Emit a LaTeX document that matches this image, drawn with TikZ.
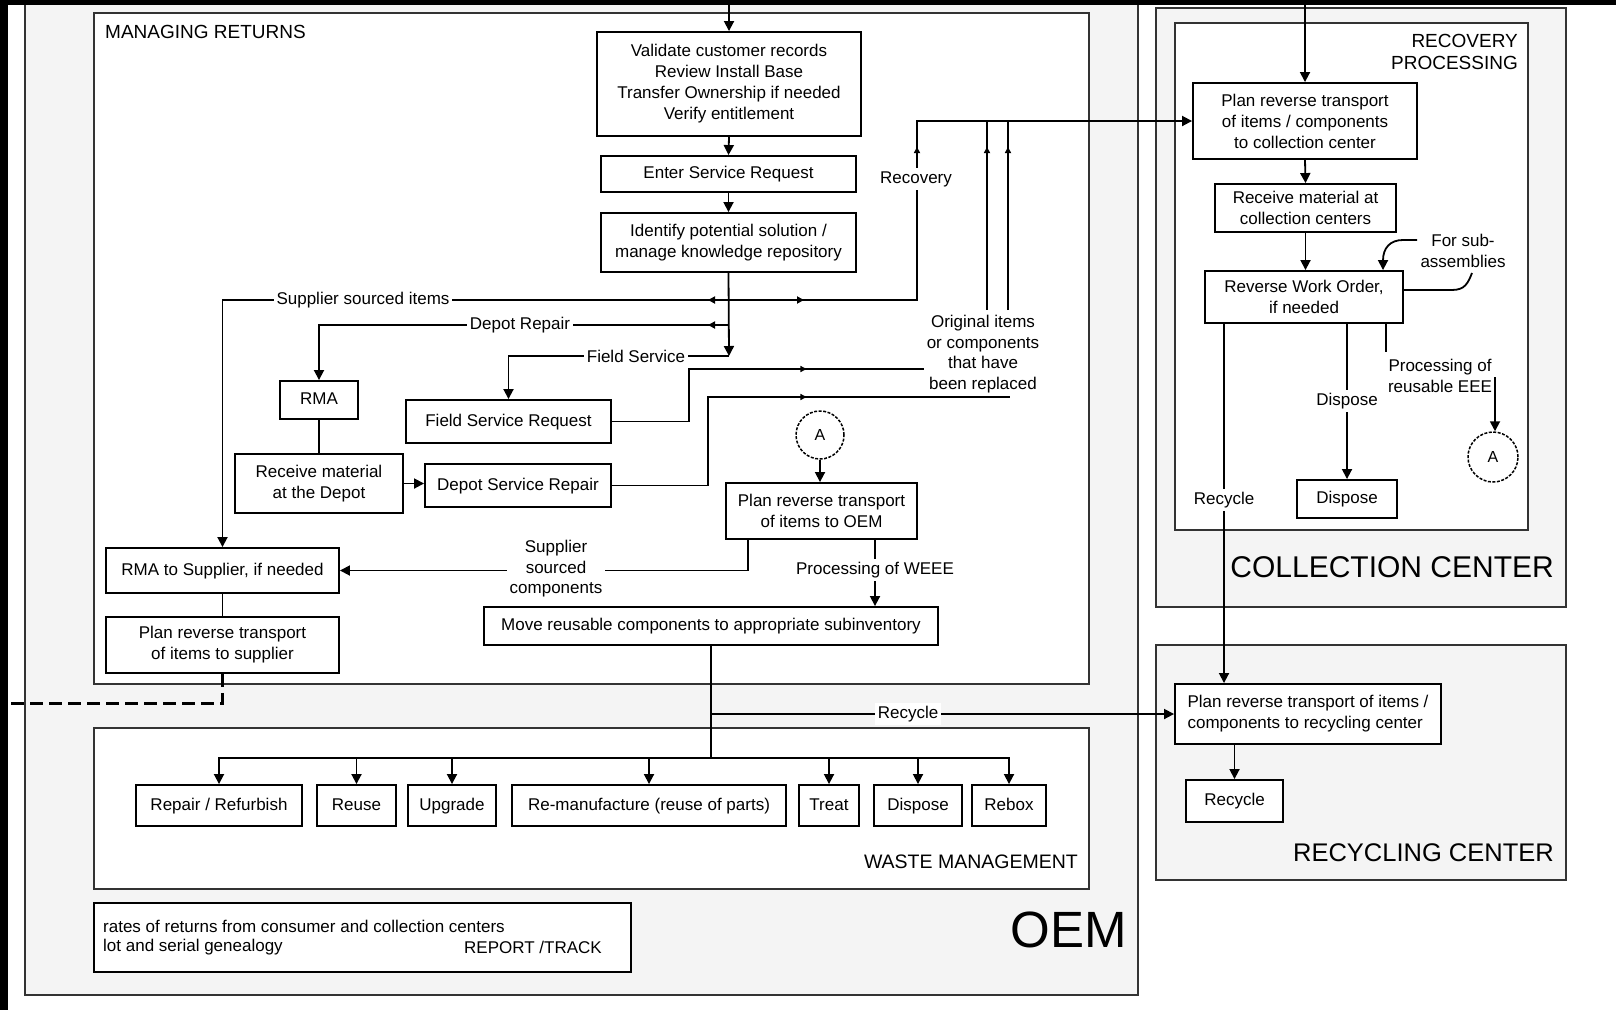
\documentclass[tikz,border=0pt]{standalone}
\usepackage{fontspec}
\setmainfont{Liberation Sans}
\usetikzlibrary{arrows.meta,calc,decorations.markings}
\definecolor{bgg}{HTML}{F4F4F4}
\definecolor{grpl}{HTML}{333333}
\tikzset{
  box/.style={draw=black, line width=1.9pt, fill=white, inner sep=0pt, align=center, font=\fontsize{17}{21}\selectfont},
  oneline/.style={text height=12.5pt, text depth=3.5pt},
  grp/.style={draw=grpl, line width=2pt},
  conn/.style={line width=1.8pt, draw=black},
  arr/.style={conn, -{Triangle[length=10pt,width=10pt]}},
  lbl/.style={fill=white, inner sep=3pt, font=\fontsize{17}{20.5}\selectfont, align=center},
  txt/.style={inner sep=0pt, font=\fontsize{17}{20.5}\selectfont, align=center},
  midarr/.style={postaction={decorate}, decoration={markings, mark=at position #1 with {\arrow{Triangle[length=7pt,width=7pt]}}}},
  smallarr/.style={postaction={decorate}, decoration={markings, mark=at position #1 with {\arrow{Triangle[length=6pt,width=6pt]}}}},
  circA/.style={draw=black, line width=1.5pt, dash pattern=on 3pt off 1.5pt, circle, inner sep=0pt, fill=white, font=\fontsize{16}{16}\selectfont},
  grptitle/.style={inner sep=0pt, align=right},
}
\begin{document}
\begin{tikzpicture}[x=1pt,y=-1pt]
\useasboundingbox (0,0) rectangle (1616,1010);
\fill[white] (0,0) rectangle (1616,1010);

% ---------- containers ----------
\draw[grp, fill=bgg] (25,-5) rectangle (1138,995);
\draw[grp, fill=white] (94,13) rectangle (1089,684);
\draw[grp, fill=white] (94,728) rectangle (1089,889);
\draw[grp, fill=bgg] (1156,8) rectangle (1566,607);
\draw[grp, fill=white] (1175,23) rectangle (1528,530);
\draw[grp, fill=bgg] (1156,645) rectangle (1566,880);

\node[grptitle, anchor=west, font=\fontsize{19}{22}\selectfont] (tmr) at (105,32) {MANAGING RETURNS};
\node[grptitle, anchor=east, font=\fontsize{19.5}{22}\selectfont] (twm) at (1078,862) {WASTE MANAGEMENT};
\node[grptitle, anchor=east, font=\fontsize{19}{22}\selectfont] (trp) at (1518,52) {RECOVERY\\PROCESSING};
\node[grptitle, anchor=east, font=\fontsize{30}{32}\selectfont] (tcc) at (1554,567) {COLLECTION CENTER};
\node[grptitle, anchor=east, font=\fontsize{25.5}{28}\selectfont] (trc) at (1554,853) {RECYCLING CENTER};
\node[grptitle, font=\fontsize{51}{55}\selectfont] (toem) at (1069,930) {OEM};

% ---------- managing returns boxes ----------
\node[box, minimum width=264pt, minimum height=104pt] (val) at (729,84) {Validate customer records\\Review Install Base\\Transfer Ownership if needed\\Verify entitlement};
\node[box, oneline, minimum width=255pt, minimum height=36pt] (esr) at (728.5,174) {Enter Service Request};
\node[box, minimum width=255pt, minimum height=59pt] (idf) at (728.5,242.5) {Identify potential solution /\\manage knowledge repository};
\node[box, oneline, minimum width=78pt, minimum height=38pt] (rma) at (319,400) {RMA};
\node[box, minimum width=168pt, minimum height=59pt] (rcvd) at (319,483.5) {Receive material\\at the Depot};
\node[box, oneline, minimum width=205pt, minimum height=43pt] (fsr) at (508.5,421.5) {Field Service Request};
\node[box, oneline, minimum width=186pt, minimum height=43pt] (dsr) at (518,485.5) {Depot Service Repair};
\node[box, oneline, minimum width=233pt, minimum height=45pt] (rmas) at (222.5,570.5) {RMA to Supplier, if needed};
\node[box, minimum width=233pt, minimum height=56pt] (prs) at (222.5,645) {Plan reverse transport\\of items to supplier};
\node[box, minimum width=191pt, minimum height=56pt] (proem) at (821.5,511) {Plan reverse transport\\of items to OEM};
\node[box, oneline, minimum width=454pt, minimum height=38pt] (move) at (711,626) {Move reusable components to appropriate subinventory};
\node[circA, minimum size=48pt] (aoem) at (820,435) {A};

% ---------- waste management boxes ----------
\node[box, oneline, minimum width=166pt, minimum height=41pt] (rep) at (219,805.5) {Repair / Refurbish};
\node[box, oneline, minimum width=79pt, minimum height=41pt] (reuse) at (356.5,805.5) {Reuse};
\node[box, oneline, minimum width=88pt, minimum height=41pt] (upg) at (452,805.5) {Upgrade};
\node[box, oneline, minimum width=274pt, minimum height=41pt] (reman) at (649,805.5) {Re-manufacture (reuse of parts)};
\node[box, oneline, minimum width=60pt, minimum height=41pt] (treat) at (829,805.5) {Treat};
\node[box, oneline, minimum width=88pt, minimum height=41pt] (disp) at (918,805.5) {Dispose};
\node[box, oneline, minimum width=74pt, minimum height=41pt] (rebox) at (1009,805.5) {Rebox};

% ---------- report ----------
\node[box, minimum width=537pt, minimum height=69pt] (rpt) at (362.5,937.5) {};
\node[txt, anchor=west] (rpt1) at (103,926) {rates of returns from consumer and collection centers};
\node[txt, anchor=west] (rpt2) at (103,947) {lot and serial genealogy};
\node[txt, anchor=west] (rpt3) at (464,947) {REPORT /TRACK};

% ---------- collection center ----------
\node[box, minimum width=224pt, minimum height=76pt] (prc) at (1305,121) {Plan reverse transport\\of items / components\\to collection center};
\node[box, minimum width=181pt, minimum height=48pt] (rcc) at (1305.5,208) {Receive material at\\collection centers};
\node[box, minimum width=198pt, minimum height=52pt] (rwo) at (1304,297) {Reverse Work Order,\\if needed};
\node[box, oneline, minimum width=100pt, minimum height=38pt] (dispcc) at (1347,499) {Dispose};
\node[circA, minimum size=50pt] (acc) at (1493,457) {A};

% ---------- recycling center ----------
\node[box, minimum width=266pt, minimum height=60pt, align=left] (prr) at (1308,714) {Plan reverse transport of items /\\components to recycling center};
\node[box, oneline, minimum width=97pt, minimum height=42pt] (rec) at (1234.5,801) {Recycle};

% ---------- coordinates ----------
\coordinate (t1) at (729,0);
\coordinate (t2) at (1305,0);
\coordinate (sj) at (729,300);
\coordinate (dj) at (729,325);
\coordinate (fj) at (729,356);
\coordinate (rv1) at (917,300);
\coordinate (rv2) at (917,121);
\coordinate (o1) at (689,369);
\coordinate (o1e) at (924,369);
\coordinate (o2) at (708,397);
\coordinate (o2e) at (1010,397);
\coordinate (v1b) at (987,310);
\coordinate (v1t) at (987,121);
\coordinate (v2b) at (1008,310);
\coordinate (v2t) at (1008,121);
\coordinate (scx) at (748,0);
\coordinate (wx) at (875,0);
\coordinate (rj) at (711,714);
\coordinate (wj) at (711,758);
\coordinate (dl) at (0,703);
\coordinate (rcx) at (1224,0);
\coordinate (ex) at (1386,352);
\coordinate (ey) at (1495,377);
\coordinate (sa1) at (1417,240);
\coordinate (sa2) at (1383,0);

% ---------- connectors ----------
\draw[arr] (t1) -- (val.north);
\draw[arr] (val.south) -- (esr.north);
\draw[arr] (esr.south) -- (idf.north);
\draw[arr] (idf.south) -- (fj);
\draw[arr] (fj) -| (fsr.north);
\draw[arr, midarr=21pt] (sj) -| (rmas.north);
\draw[arr, midarr=21pt] (dj) -| (rma.north);
\draw[arr, postaction={decorate}, decoration={markings,
   mark=at position 75pt with {\arrow{Triangle[length=7pt,width=7pt]}},
   mark=at position 341pt with {\arrow{Triangle[length=6pt,width=6pt]}}}]
   (sj) -- (rv1) -- (rv2) -- (prc.west);
\draw[conn] (rma.south) -- (rcvd.north);
\draw[arr] (rcvd.east) -- (rcvd.east -| dsr.west);
\draw[conn, smallarr=247pt] (fsr.east) -| (o1) -- (o1e);
\draw[conn, smallarr=283pt] (dsr.east) -| (o2) -- (o2e);
\draw[conn, smallarr=163pt] (v1b) -- (v1t);
\draw[conn, smallarr=163pt] (v2b) -- (v2t);
\draw[conn] (rmas.south) -- (prs.north);
\draw[conn, line width=3pt, dash pattern=on 13pt off 6pt] (prs.south) |- (dl);
\draw[arr] (aoem.south) -- (aoem.south |- proem.north);
\draw[arr] (proem.south -| scx) |- (rmas.east);
\draw[arr] (proem.south -| wx) -- (move.north -| wx);
\draw[conn] (move.south) -- (wj);
\draw[arr] (rj) -- (prr.west);
\foreach \b in {rep,reuse,upg,reman,treat,disp,rebox}
  \draw[arr] (wj) -| (\b.north);

\draw[arr] (t2) -- (prc.north);
\draw[arr] (prc.south) -- (rcc.north);
\draw[arr] (rcc.south) -- (rcc.south |- rwo.north);
\draw[arr] (rwo.south -| rcx) -- (prr.north -| rcx);
\draw[arr] (rwo.south -| dispcc.north) -- (dispcc.north);
\draw[conn] (rwo.south -| ex) -- (ex);
\draw[arr] (ey) -- (ey |- acc.north);
\draw[arr] (sa1) -- (1403,240) .. controls (1390,240) and (1383,248) .. (sa2 |- rwo.north);
\draw[conn] ($(rwo.east)+(0,-7)$) -- (1452,290) .. controls (1465,290) and (1468,283) .. (1472,273);
\draw[arr] (prr.south -| rec.north) -- (rec.north);

% ---------- connector labels ----------
\node[lbl] (lsup) at (363,300) {Supplier sourced items};
\node[lbl] (ldep) at (520,325) {Depot Repair};
\node[lbl] (lfs) at (636,356) {Field Service};
\node[lbl] (lrec) at (916,179) {Recovery};
\node[lbl] (lscomp) at (556,569) {Supplier\\sourced\\components};
\node[lbl] (lweee) at (875,570) {Processing of WEEE};
\node[lbl] (lrcy) at (908,714) {Recycle};
\node[lbl] (lrcy2) at (1224,500) {Recycle};
\node[lbl] (ldisp) at (1347,401) {Dispose};
\node[txt] (leee) at (1440,376) {Processing of\\reusable EEE};
\node[txt] (lsub) at (1463,251) {For sub-\\assemblies};
\node[txt] (lorig) at (983,354) {Original items\\or components\\that have\\been replaced};

% ---------- black frame remnants ----------
\fill[black] (0,0) rectangle (1616,4.5);
\fill[black] (0,0) rectangle (8,1010);
\end{tikzpicture}
\end{document}
